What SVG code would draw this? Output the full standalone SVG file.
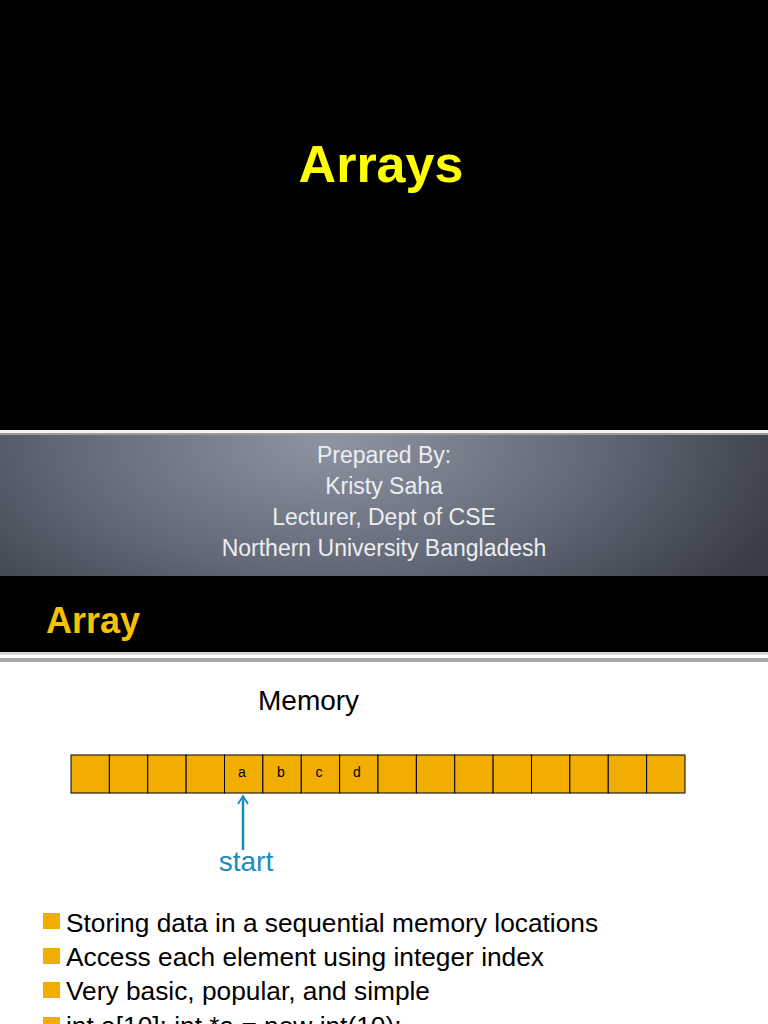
<svg xmlns="http://www.w3.org/2000/svg" width="768" height="1024" viewBox="0 0 768 1024">
<defs>
<style>
.t{font-family:"Liberation Sans",Arial,sans-serif}
.sub{font-size:23px;fill:#eceef2;text-anchor:middle}
.cell{fill:#f1ae00;stroke:#000;stroke-width:1}
.lbl{font-size:14px;fill:#000;text-anchor:middle}
.bul{fill:#f1ae00}
.btxt{font-size:26.3px;fill:#000}
</style>
<radialGradient id="pg" cx="330" cy="440" r="480" gradientUnits="userSpaceOnUse" gradientTransform="translate(330 440) scale(1 0.5) translate(-330 -440)">
<stop offset="0" stop-color="#8e94a2"/>
<stop offset="0.55" stop-color="#626876"/>
<stop offset="1" stop-color="#393d49"/>
</radialGradient>
</defs>
<rect x="0" y="0" width="768" height="1024" fill="#ffffff"/>
<g id="title-slide">
<rect x="0" y="0" width="768" height="430" fill="#000"/>
<text class="t" x="381" y="182" font-size="52" font-weight="bold" fill="#ffff00" text-anchor="middle">Arrays</text>
<rect x="0" y="430" width="768" height="3" fill="#f4f4f4"/>
<rect x="0" y="433" width="768" height="2" fill="#9a9a9a"/>
<rect x="0" y="435" width="768" height="141" fill="url(#pg)"/>
<text class="t sub" x="384" y="463">Prepared By:</text>
<text class="t sub" x="384" y="494">Kristy Saha</text>
<text class="t sub" x="384" y="525">Lecturer, Dept of CSE</text>
<text class="t sub" x="384" y="556">Northern University Bangladesh</text>
</g>
<g id="header">
<rect x="0" y="576" width="768" height="76" fill="#000"/>
<text class="t" x="46" y="633" font-size="36" font-weight="bold" fill="#f7c200">Array</text>
<rect x="0" y="652" width="768" height="3" fill="#d8d8d8"/>
<rect x="0" y="658" width="768" height="4" fill="#a8a8a8"/>
</g>
<text class="t" x="258" y="710" font-size="28" fill="#000">Memory</text>
<g id="memory">
<rect class="cell" x="71" y="755" width="38.375" height="38"/>
<rect class="cell" x="109.375" y="755" width="38.375" height="38"/>
<rect class="cell" x="147.75" y="755" width="38.375" height="38"/>
<rect class="cell" x="186.125" y="755" width="38.375" height="38"/>
<rect class="cell" x="224.5" y="755" width="38.375" height="38"/>
<rect class="cell" x="262.875" y="755" width="38.375" height="38"/>
<rect class="cell" x="301.25" y="755" width="38.375" height="38"/>
<rect class="cell" x="339.625" y="755" width="38.375" height="38"/>
<rect class="cell" x="378" y="755" width="38.375" height="38"/>
<rect class="cell" x="416.375" y="755" width="38.375" height="38"/>
<rect class="cell" x="454.75" y="755" width="38.375" height="38"/>
<rect class="cell" x="493.125" y="755" width="38.375" height="38"/>
<rect class="cell" x="531.5" y="755" width="38.375" height="38"/>
<rect class="cell" x="569.875" y="755" width="38.375" height="38"/>
<rect class="cell" x="608.25" y="755" width="38.375" height="38"/>
<rect class="cell" x="646.625" y="755" width="38.375" height="38"/>
<text class="t lbl" x="242" y="777">a</text>
<text class="t lbl" x="281" y="777">b</text>
<text class="t lbl" x="319" y="777">c</text>
<text class="t lbl" x="357" y="777">d</text>
</g>
<g id="connectors" fill="none" stroke="#1a8cc0">
<line x1="243" y1="850" x2="243" y2="797" stroke-width="2.5"/>
<path d="M238,804 L243,796 L248,804" stroke-width="1.8"/>
</g>
<g id="start-label">
<text class="t" x="246" y="871" font-size="28" fill="#1a8cc0" text-anchor="middle">start</text>
</g>
<g id="bullets">
<rect class="bul" x="43" y="913" width="17" height="16"/>
<text class="t btxt" x="66" y="932">Storing data in a sequential memory locations</text>
<rect class="bul" x="43" y="948" width="17" height="16"/>
<text class="t btxt" x="66" y="966">Access each element using integer index</text>
<rect class="bul" x="43" y="982" width="17" height="16"/>
<text class="t btxt" x="66" y="1000">Very basic, popular, and simple</text>
<rect class="bul" x="43" y="1017" width="17" height="16"/>
<text class="t btxt" x="66" y="1035">int a[10]; int *a = new int(10);</text>
</g>
</svg>
